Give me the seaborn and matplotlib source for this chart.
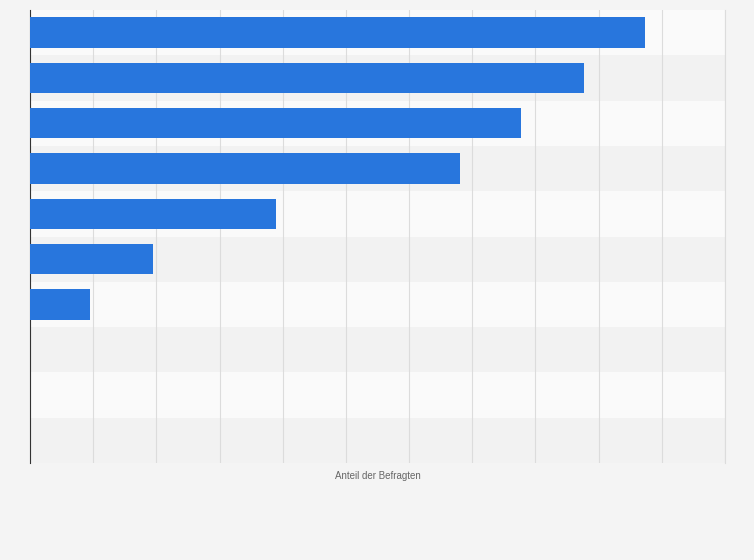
import matplotlib
matplotlib.use("Agg")
import matplotlib.pyplot as plt
import seaborn as sns
import pandas as pd

# category labels are not shown in the reference
categories = ["K1", "K2", "K3", "K4", "K5", "K6", "K7", "K8", "K9", "K10"]
values = [97.3, 87.7, 77.7, 68.1, 38.9, 19.4, 9.5, 0, 0, 0]

df = pd.DataFrame({"cat": categories, "val": values})

fig = plt.figure(figsize=(7.54, 5.60), dpi=100)
fig.patch.set_facecolor("#f4f4f4")
ax = fig.add_axes([30 / 754, 1 - 463 / 560, 695 / 754, 453 / 560])
ax.set_facecolor("#f4f4f4")

for i in range(len(categories)):
    ax.axhspan(i - 0.5, i + 0.5, color="#fafafa" if i % 2 == 0 else "#f2f2f2", zorder=0, lw=0)

sns.barplot(data=df, x="val", y="cat", color="#2876dd", saturation=1, width=0.67, ax=ax, zorder=3)

ax.set_xlim(0, 110)
ax.set_ylim(len(categories) - 0.5, -0.5)
ax.set_xticks(range(0, 111, 10))
ax.grid(axis="x", color="#dcdcdc", lw=0.8, zorder=1)
ax.set_axisbelow(True)
ax.tick_params(length=0, labelbottom=False, labelleft=False)
for s in ["top", "bottom"]:
    ax.spines[s].set_visible(False)
ax.spines["right"].set_color("#dcdcdc")
ax.spines["right"].set_linewidth(0.8)
ax.spines["left"].set_color("#333333")
ax.set_ylabel("")
ax.set_xlabel("Anteil der Befragten", fontsize=7, color="#666666", labelpad=6,
              fontfamily="Liberation Sans")

fig.savefig("out.png", dpi=100, facecolor=fig.get_facecolor())
